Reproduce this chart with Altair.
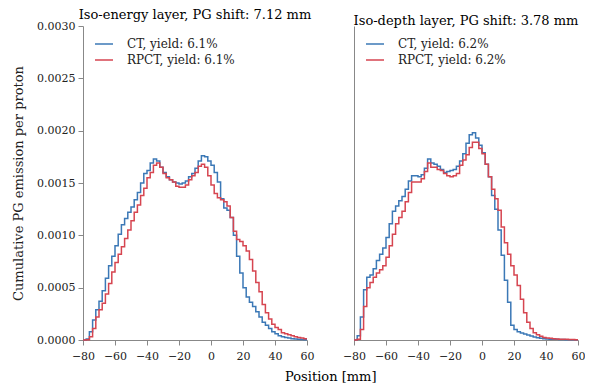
import altair as alt
import pandas as pd

# bin start positions [mm] (2 mm bins), last edge at 60
bin_edges = list(range(-80, 62, 2))

left_ct = [0, 0.00001, 0.00008, 0.00019, 0.00029, 0.00037, 0.00047, 0.00059, 0.00071, 0.00080,
           0.00090, 0.00101, 0.00110, 0.00116, 0.00122, 0.00127, 0.00134, 0.00141, 0.00150, 0.00159,
           0.00162, 0.00169, 0.00173, 0.00171, 0.00165, 0.00160, 0.00156, 0.00153, 0.00151, 0.00150,
           0.00149, 0.00150, 0.00152, 0.00156, 0.00159, 0.00164, 0.00171, 0.00176, 0.00175, 0.00171,
           0.00167, 0.00160, 0.00151, 0.00135, 0.00126, 0.00124, 0.00117, 0.00100, 0.00080, 0.00064,
           0.00050, 0.00041, 0.00036, 0.00032, 0.00027, 0.00022, 0.00017, 0.00014, 0.00011, 0.00008,
           0.00006, 0.00004, 0.00003, 0.000025, 0.00002, 0.000013, 0.00001, 0.000006, 0.000004, 0.000003]

left_rpct = [0, 0.000003, 0.00003, 0.00011, 0.00022, 0.00029, 0.00035, 0.00044, 0.00054, 0.00065,
             0.00074, 0.00082, 0.00089, 0.00097, 0.00105, 0.00114, 0.00122, 0.00129, 0.00138, 0.00145,
             0.00155, 0.00160, 0.00167, 0.00169, 0.00165, 0.00159, 0.00155, 0.00153, 0.00151, 0.00147,
             0.00146, 0.00146, 0.00148, 0.00153, 0.00157, 0.00160, 0.00166, 0.00168, 0.00165, 0.00157,
             0.00148, 0.00140, 0.00136, 0.00134, 0.00132, 0.00128, 0.00117, 0.00104, 0.00096, 0.00094,
             0.00090, 0.00085, 0.00077, 0.00066, 0.00055, 0.00046, 0.00034, 0.00026, 0.00020, 0.00015,
             0.00012, 0.00010, 0.00007, 0.00006, 0.00005, 0.00004, 0.00003, 0.000025, 0.00002, 0.000013]

right_ct = [0, 0.00004, 0.00022, 0.00048, 0.00060, 0.00062, 0.00068, 0.00076, 0.00082, 0.00088,
            0.00098, 0.00111, 0.00123, 0.00128, 0.00133, 0.00137, 0.00144, 0.00152, 0.00157, 0.00157,
            0.00156, 0.00158, 0.00164, 0.00173, 0.00169, 0.00168, 0.00166, 0.00163, 0.00160, 0.00161,
            0.00162, 0.00163, 0.00166, 0.00171, 0.00178, 0.00188, 0.00196, 0.00198, 0.00193, 0.00186,
            0.00179, 0.00168, 0.00156, 0.00138, 0.00125, 0.00105, 0.00081, 0.00057, 0.00036, 0.00014,
            0.00010, 0.00008, 0.000067, 0.000057, 0.000048, 0.000038, 0.000029, 0.000022, 0.000016, 0.000013,
            0.00001, 0.000008, 0.000007, 0.000006, 0.000005, 0.000004, 0.000003, 0.000003, 0.000002, 0.000002]

right_rpct = [0, 0.000006, 0.0001, 0.00032, 0.00050, 0.00055, 0.00060, 0.00064, 0.00067, 0.00071,
              0.00079, 0.00090, 0.00101, 0.00111, 0.00117, 0.00123, 0.00132, 0.00141, 0.00151, 0.00151,
              0.00151, 0.00154, 0.00161, 0.00169, 0.00165, 0.00165, 0.00163, 0.00162, 0.00159, 0.00157,
              0.00156, 0.00157, 0.00159, 0.00167, 0.00172, 0.00177, 0.00184, 0.00189, 0.00189, 0.00183,
              0.00178, 0.00168, 0.00156, 0.00144, 0.00135, 0.00124, 0.00108, 0.00093, 0.00082, 0.00071,
              0.00062, 0.00052, 0.00039, 0.00026, 0.00017, 0.00011, 0.00007, 0.00005, 0.000035, 0.000025,
              0.000019, 0.000016, 0.000013, 0.00001, 0.000008, 0.000007, 0.000006, 0.000005, 0.000004, 0.000003]

titles = ["Iso-energy layer, PG shift: 7.12 mm", "Iso-depth layer, PG shift: 3.78 mm"]
left_labels = ["CT, yield: 6.1%", "RPCT, yield: 6.1%"]
right_labels = ["CT, yield: 6.2%", "RPCT, yield: 6.2%"]
y_ticks = [0, 0.0005, 0.001, 0.0015, 0.002, 0.0025, 0.003]
x_ticks = [-80, -60, -40, -20, 0, 20, 40, 60]

BLUE = "#3b78b6"
RED = "#d64550"
FONT = "DejaVu Serif"


def make_df(ct, rpct, labels):
    rows = []
    for lab, vals in zip(labels, [ct, rpct]):
        ext = list(vals) + [vals[-1]]
        for i, (x, v) in enumerate(zip(bin_edges, ext)):
            rows.append({"x": x, "v": v, "series": lab, "order": i})
    return pd.DataFrame(rows)


def panel(ct, rpct, labels, title, show_y):
    df = make_df(ct, rpct, labels)
    if show_y:
        yaxis = alt.Axis(values=y_ticks, format=".4f", title="Cumulative PG emission per proton",
                         grid=False, tickSize=5, labelPadding=3, titlePadding=11)
    else:
        yaxis = alt.Axis(values=y_ticks, labels=False, ticks=False, title=None, grid=False)
    return alt.Chart(df).mark_line(interpolate="step-after", strokeWidth=1.5).encode(
        x=alt.X("x:Q", scale=alt.Scale(domain=[-80, 60], nice=False),
                axis=alt.Axis(values=x_ticks, title=None, grid=False, tickSize=5, labelPadding=5,
                              labelOverlap=False, labelFlush=False)),
        y=alt.Y("v:Q", scale=alt.Scale(domain=[0, 0.003], nice=False), axis=yaxis),
        color=alt.Color("series:N", scale=alt.Scale(domain=labels, range=[BLUE, RED]),
                        legend=alt.Legend(title=None, orient="none", legendX=11, legendY=8,
                                          symbolType="stroke", symbolSize=324, symbolStrokeWidth=1.5,
                                          labelFont=FONT, labelFontSize=12, rowPadding=-2,
                                          labelOffset=13)),
        order="order:Q",
    ).properties(width=224, height=314,
                 title=alt.TitleParams(title, font=FONT, fontSize=13, fontWeight="normal",
                                       anchor="middle", offset=-2))


left = panel(left_ct, left_rpct, left_labels, titles[0], True)
right = panel(right_ct, right_rpct, right_labels, titles[1], False)

chart = alt.hconcat(left, right, spacing=28).resolve_scale(color="independent").resolve_legend(
    color="independent"
).properties(
    padding={"left": 4, "right": 0, "top": 1, "bottom": 0},
    title=alt.TitleParams("Position [mm]", orient="bottom", anchor="middle", font=FONT,
                          fontSize=13, fontWeight="normal", dx=32, offset=10),
).configure_view(stroke=None).configure_axis(
    labelFont=FONT, labelFontSize=11, labelColor="#222", titleFont=FONT, titleFontSize=13,
    titleFontWeight="normal", titleColor="#222", domainColor="#888", tickColor="#888",
).configure_legend(labelColor="#222")

chart.save("out.html", embed_options={"renderer": "svg", "actions": False})
